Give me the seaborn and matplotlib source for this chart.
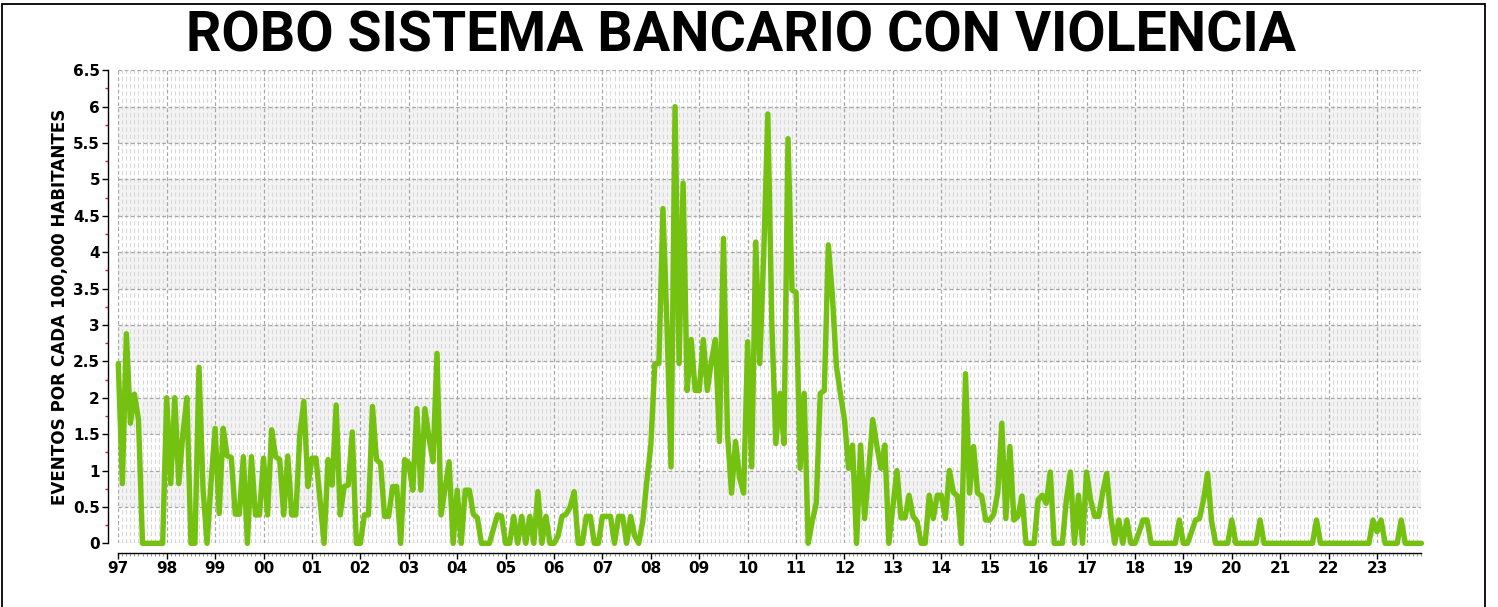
import numpy as np
import pandas as pd
import matplotlib
matplotlib.use("Agg")
import matplotlib.pyplot as plt
import seaborn as sns
from matplotlib.ticker import FixedLocator, FuncFormatter
from matplotlib.patches import Rectangle

# Monthly rate of violent bank robberies per 100,000 inhabitants (Jan..Dec)
r1997 = [2.47, 0.82, 2.88, 1.65, 2.05, 1.70, 0.00, 0.00, 0.00, 0.00, 0.00, 0.00]
r1998 = [2.00, 0.82, 2.00, 0.82, 1.50, 2.00, 0.00, 0.00, 2.42, 0.75, 0.00, 0.85]
r1999 = [1.58, 0.41, 1.58, 1.20, 1.18, 0.40, 0.40, 1.19, 0.00, 1.19, 0.39, 0.39]
r2000 = [1.17, 0.39, 1.56, 1.19, 1.15, 0.39, 1.20, 0.39, 0.39, 1.50, 1.95, 0.78]
r2001 = [1.17, 1.17, 0.60, 0.00, 1.15, 0.80, 1.90, 0.39, 0.78, 0.80, 1.53, 0.00]
r2002 = [0.00, 0.39, 0.39, 1.88, 1.15, 1.10, 0.37, 0.37, 0.78, 0.78, 0.00, 1.15]
r2003 = [1.10, 0.73, 1.85, 0.73, 1.85, 1.45, 1.12, 2.61, 0.39, 0.75, 1.12, 0.00]
r2004 = [0.73, 0.00, 0.73, 0.73, 0.40, 0.35, 0.00, 0.00, 0.00, 0.20, 0.39, 0.37]
r2005 = [0.00, 0.00, 0.37, 0.00, 0.37, 0.00, 0.37, 0.00, 0.71, 0.00, 0.37, 0.00]
r2006 = [0.00, 0.10, 0.37, 0.40, 0.50, 0.71, 0.00, 0.00, 0.37, 0.37, 0.00, 0.00]
r2007 = [0.37, 0.37, 0.37, 0.00, 0.37, 0.37, 0.00, 0.37, 0.10, 0.00, 0.30, 0.85]
r2008 = [1.35, 2.47, 2.47, 4.60, 3.00, 1.05, 6.00, 2.47, 4.95, 2.10, 2.80, 2.10]
r2009 = [2.10, 2.80, 2.10, 2.50, 2.80, 1.40, 4.19, 1.50, 0.69, 1.40, 0.90, 0.69]
r2010 = [2.77, 1.05, 4.14, 2.47, 4.00, 5.90, 3.00, 1.37, 2.06, 1.37, 5.56, 3.48]
r2011 = [3.45, 1.03, 2.06, 0.00, 0.30, 0.55, 2.06, 2.10, 4.10, 3.40, 2.43, 2.05]
r2012 = [1.70, 1.03, 1.35, 0.00, 1.35, 0.34, 1.00, 1.70, 1.35, 1.03, 1.35, 0.00]
r2013 = [0.50, 1.00, 0.35, 0.35, 0.66, 0.37, 0.30, 0.00, 0.00, 0.66, 0.34, 0.66]
r2014 = [0.66, 0.34, 1.00, 0.70, 0.65, 0.00, 2.33, 0.69, 1.33, 0.69, 0.65, 0.32]
r2015 = [0.32, 0.40, 0.70, 1.65, 0.34, 1.33, 0.32, 0.37, 0.65, 0.00, 0.00, 0.00]
r2016 = [0.60, 0.66, 0.55, 0.98, 0.00, 0.00, 0.00, 0.60, 0.98, 0.00, 0.66, 0.00]
r2017 = [0.98, 0.60, 0.37, 0.37, 0.70, 0.96, 0.37, 0.00, 0.32, 0.00, 0.32, 0.00]
r2018 = [0.00, 0.15, 0.32, 0.32, 0.00, 0.00, 0.00, 0.00, 0.00, 0.00, 0.00, 0.32]
r2019 = [0.00, 0.00, 0.15, 0.32, 0.34, 0.60, 0.96, 0.30, 0.00, 0.00, 0.00, 0.00]
r2020 = [0.32, 0.00, 0.00, 0.00, 0.00, 0.00, 0.00, 0.32, 0.00, 0.00, 0.00, 0.00]
r2021 = [0.00, 0.00, 0.00, 0.00, 0.00, 0.00, 0.00, 0.00, 0.00, 0.32, 0.00, 0.00]
r2022 = [0.00, 0.00, 0.00, 0.00, 0.00, 0.00, 0.00, 0.00, 0.00, 0.00, 0.00, 0.32]
r2023 = [0.16, 0.32, 0.00, 0.00, 0.00, 0.00, 0.32, 0.00, 0.00, 0.00, 0.00, 0.00]

yearly = [r1997, r1998, r1999, r2000, r2001, r2002, r2003, r2004, r2005,
          r2006, r2007, r2008, r2009, r2010, r2011, r2012, r2013, r2014,
          r2015, r2016, r2017, r2018, r2019, r2020, r2021, r2022, r2023]
first_year = 1997
year_labels = ["97", "98", "99", "00", "01", "02", "03", "04", "05", "06",
               "07", "08", "09", "10", "11", "12", "13", "14", "15", "16",
               "17", "18", "19", "20", "21", "22", "23"]
y_ticks = [0, 0.5, 1, 1.5, 2, 2.5, 3, 3.5, 4, 4.5, 5, 5.5, 6, 6.5]

title = "ROBO SISTEMA BANCARIO CON VIOLENCIA"
ylabel = "EVENTOS POR CADA 100,000 HABITANTES"

rows = []
for i, vals in enumerate(yearly):
    for month, v in enumerate(vals):
        rows.append({"t": first_year + i + month / 12.0, "tasa": v})
df = pd.DataFrame(rows)

sns.set_theme(style="white")
plt.rcParams["font.family"] = ["DejaVu Sans"]

W, H = 1498, 607
fig = plt.figure(figsize=(W / 100, H / 100), dpi=100)
fig.patch.set_facecolor("white")

x0, x1 = 118.3, 1421.4
y_top, y_bot = 70.3, 543.3
ax = fig.add_axes([x0 / W, 1 - y_bot / H, (x1 - x0) / W, (y_bot - y_top) / H])
ax.set_facecolor("white")

t_end = df["t"].iloc[-1]
ax.set_xlim(first_year, t_end)
ax.set_ylim(0, 6.5)

# alternating light bands
for lo in np.arange(0.5, 6.0, 1.0):
    ax.axhspan(lo, lo + 0.5, color="#f3f3f3", zorder=0, lw=0)

# grids
year_pos = [first_year + i for i in range(len(year_labels))]
month_pos = [first_year + k / 12.0 for k in range(len(df)) if k % 12 != 0]
ax.xaxis.set_major_locator(FixedLocator(year_pos))
ax.xaxis.set_minor_locator(FixedLocator(month_pos))
ax.yaxis.set_major_locator(FixedLocator(y_ticks))
ax.yaxis.set_minor_locator(FixedLocator([v + 0.25 for v in y_ticks[:-1]]))

ax.grid(which="major", axis="both", color="#a8a8a8", linestyle=(0, (3, 2)), lw=0.9, zorder=1)
ax.grid(which="minor", axis="x", color="#d9d9d9", linestyle=(0, (4, 2.5)), lw=0.8, zorder=1)
ax.set_axisbelow(True)

sns.lineplot(data=df, x="t", y="tasa", ax=ax, color="#74C112", lw=3.9,
             clip_on=False, zorder=5)

# axes styling
for side in ["top", "right"]:
    ax.spines[side].set_visible(False)
ax.spines["left"].set_position(("outward", 7.2))
ax.spines["bottom"].set_position(("outward", 6.8))
for side in ["left", "bottom"]:
    ax.spines[side].set_color("black")
    ax.spines[side].set_linewidth(1.0)

ax.xaxis.set_major_formatter(FuncFormatter(lambda v, p: year_labels[int(round(v)) - first_year]
                                           if 0 <= int(round(v)) - first_year < len(year_labels) else ""))
ax.yaxis.set_major_formatter(FuncFormatter(lambda v, p: f"{v:g}"))

ax.tick_params(axis="x", which="major", direction="out", length=4, width=1, color="black",
               pad=2, labelsize=11, labelcolor="black")
ax.tick_params(axis="x", which="minor", direction="out", length=2, width=0.8, color="#999999")
ax.tick_params(axis="y", which="major", direction="out", length=4, width=1, color="black",
               pad=2, labelsize=11, labelcolor="black")
ax.tick_params(axis="y", which="minor", direction="out", length=2.5, width=1, color="#e02020")
ax.tick_params(left=True, bottom=True, which="both")
for lab in ax.get_xticklabels() + ax.get_yticklabels():
    lab.set_fontweight("bold")

ax.set_xlabel("")
ax.set_ylabel(ylabel, fontsize=12.1, fontweight="bold", color="black")
ax.yaxis.set_label_coords((60 - x0) / (x1 - x0), 0.5)
ax.yaxis.label.set_verticalalignment("center")

fig.text(741 / W, 1 - 52 / H, title, ha="center", va="baseline",
         fontsize=40, fontweight="bold", color="black",
         family=["Roboto", "DejaVu Sans"])

fig.patches.append(Rectangle((1.5 / W, -0.05), (1485 - 1.5) / W, 1.05 - 3.5 / H,
                             transform=fig.transFigure, fill=False, ec="black", lw=1.3))

fig.savefig("out.png", dpi=100, facecolor="white")
